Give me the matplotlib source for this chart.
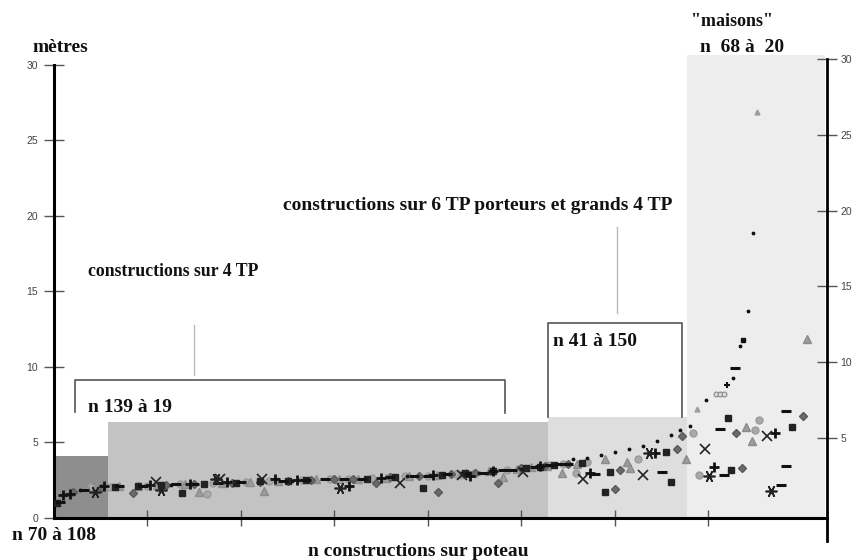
import matplotlib
matplotlib.use("Agg")
import matplotlib.pyplot as plt

# groups of constructions (x ranges in rank units, height of shaded block in metres)
group_edges = [0.2, 5.8, 52.8, 67.7, 82.5]
group_tops = [4.1, 6.36, 6.69, 30.7]
group_colors = ['#8e8e8e', '#c3c3c3', '#dedede', '#ededed']

# series: (x rank, height in metres)
x_cross = [10.9, 17.8, 22.2, 37.0, 43.7, 50.2, 56.6, 63.0, 69.6, 76.3]
y_cross = [2.4, 2.6, 2.55, 2.3, 2.85, 3.05, 2.6, 2.85, 4.6, 5.4]

x_star = [4.4, 11.4, 17.3, 30.6, 63.7, 70.1, 76.7]
y_star = [1.7, 1.85, 2.6, 2.0, 4.3, 2.8, 1.8]

x_plus = [1.0, 1.7, 5.3, 10.3, 14.5, 18.5, 23.6, 26.0, 31.6, 35.0, 40.5, 44.5, 47.0,
          52.0, 57.3, 64.3, 70.6, 77.1]
y_plus = [1.5, 1.6, 2.1, 2.2, 2.25, 2.4, 2.55, 2.5, 2.1, 2.65, 2.85, 2.8, 3.1,
          3.45, 3.0, 4.3, 3.4, 5.6]

x_dash = [0.6, 3.2, 7.0, 9.5, 13.0, 15.0, 17.5, 20.0, 24.5, 27.0, 29.0, 31.0, 33.0,
          36.0, 38.5, 40.0, 42.0, 44.0, 46.0, 48.0, 49.0, 51.5, 53.0, 54.0, 55.0,
          57.9, 65.1, 71.3, 71.7, 72.9, 77.8, 78.3, 78.3]
y_dash = [1.05, 1.85, 2.1, 2.15, 2.25, 2.25, 2.3, 2.4, 2.45, 2.5, 2.55, 2.55, 2.6,
          2.7, 2.75, 2.8, 2.9, 2.95, 3.0, 3.15, 3.2, 3.4, 3.5, 3.6, 3.6,
          2.9, 3.05, 5.9, 2.85, 9.9, 2.2, 3.45, 7.1]

x_square = [0.3, 6.5, 9.0, 11.5, 13.7, 16.0, 19.5, 22.0, 25.0, 27.0, 33.5, 36.5,
            39.5, 41.5, 44.0, 47.0, 50.5, 52.0, 53.5, 56.5, 59.0, 59.5, 65.5,
            66.0, 72.1, 72.4, 79.0]
y_square = [1.0, 2.05, 2.15, 2.2, 1.65, 2.25, 2.35, 2.45, 2.45, 2.5, 2.6, 2.7,
            2.0, 2.85, 2.95, 3.1, 3.3, 3.4, 3.5, 3.65, 1.7, 3.05, 4.4,
            2.4, 6.6, 3.2, 6.0]

x_diamond = [2.0, 5.0, 8.45, 12.0, 15.0, 19.0, 22.0, 25.0, 27.5, 30.0, 32.0, 34.5,
             36.0, 39.0, 41.1, 42.5, 45.0, 47.5, 50.0, 52.5, 55.0, 60.0, 60.6,
             66.6, 67.2, 73.0, 73.6, 80.1]
y_diamond = [1.75, 2.0, 1.65, 2.2, 2.25, 2.35, 2.4, 2.45, 2.5, 2.55, 2.6, 2.3,
             2.7, 2.75, 1.7, 2.9, 2.95, 2.3, 3.3, 3.45, 3.55, 1.9, 3.2,
             4.6, 5.4, 5.6, 3.3, 6.75]

x_triangle = [3.5, 7.0, 9.0, 11.0, 14.0, 15.5, 18.0, 21.0, 22.5, 24.0, 28.0, 30.5,
              32.5, 35.5, 38.0, 41.0, 43.5, 46.5, 48.0, 49.5, 51.0, 52.7, 54.4,
              56.0, 59.0, 61.3, 61.6, 67.6, 74.0, 74.7, 80.6]
y_triangle = [1.9, 2.1, 2.15, 2.2, 2.25, 1.7, 2.3, 2.4, 1.8, 2.45, 2.55, 2.55,
              2.6, 2.65, 2.75, 2.85, 2.9, 3.1, 2.7, 3.25, 3.35, 3.45, 3.0,
              3.6, 3.9, 3.7, 3.3, 3.9, 6.0, 5.1, 11.85]

x_circle = [3.85, 6.0, 10.0, 13.5, 16.4, 17.0, 20.5, 23.0, 26.5, 29.5, 31.5, 34.0,
            37.5, 40.0, 43.0, 45.0, 48.5, 50.0, 53.0, 54.5, 55.9, 57.0, 62.5,
            68.4, 69.0, 75.0, 75.4]
y_circle = [2.05, 2.05, 2.15, 2.25, 1.6, 2.3, 2.4, 2.45, 2.5, 2.55, 2.6, 2.65,
            2.75, 2.8, 2.9, 3.0, 3.2, 3.3, 3.5, 3.55, 3.0, 3.7, 3.9,
            5.6, 2.85, 5.8, 6.5]

x_dot = [2.8, 12.5, 25.5, 37.8, 45.5, 50.0, 55.5, 57.0, 58.5, 60.0, 61.5, 63.0,
         64.5, 66.0, 67.0, 68.0, 69.8, 72.6, 73.4, 74.3, 74.8]
y_dot = [1.85, 2.2, 2.45, 2.75, 3.0, 3.25, 3.9, 4.0, 4.2, 4.4, 4.6, 4.8,
         5.1, 5.5, 5.8, 6.1, 7.8, 9.3, 11.4, 13.7, 18.9]

# small marks of the steep "maisons" branch
x_small_tri = [68.8, 75.2]
y_small_tri = [7.2, 26.9]
x_small_circ = [70.8, 71.2, 71.7]
y_small_circ = [8.2, 8.2, 8.2]
x_small_sq = [73.7]
y_small_sq = [11.8]
x_small_plus = [72.0]
y_small_plus = [8.8]

fig = plt.figure(figsize=(8.57, 5.6), dpi=100)
ax = fig.add_axes([54 / 857, 42 / 560, (827 - 54) / 857, (518 - 55) / 560])

ax.set_xlim(0, 82.7)
ax.set_ylim(0, 30.66)

# shaded blocks of each group
for i in range(len(group_tops)):
    ax.fill_between([group_edges[i], group_edges[i + 1]], 0, group_tops[i],
                    color=group_colors[i], lw=0, zorder=0)

# scatter series
ax.plot(x_circle, y_circle, 'o', ms=5, color='#a9a9a9', mec='#9a9a9a', ls='none', zorder=3)
ax.plot(x_triangle, y_triangle, '^', ms=5.5, color='#9c9c9c', mec='#8c8c8c', ls='none', zorder=3)
ax.plot(x_diamond, y_diamond, 'D', ms=4.5, color='#6a6a6a', mec='#5a5a5a', ls='none', zorder=4)
ax.plot(x_square, y_square, 's', ms=4, color='#222222', ls='none', zorder=4)
ax.plot(x_dash, y_dash, '_', ms=6.5, mew=2.2, color='#111111', ls='none', zorder=5)
ax.plot(x_dot, y_dot, '.', ms=3.5, color='#111111', ls='none', zorder=5)
ax.plot(x_plus, y_plus, '+', ms=7, mew=2, color='#111111', ls='none', zorder=5)
ax.plot(x_cross, y_cross, 'x', ms=7.5, mew=1.2, color='#222222', ls='none', zorder=5)
ax.plot(x_star, y_star, marker=(6, 2, 90), ms=8.5, mew=1.2, color='#222222', ls='none', zorder=5)

ax.plot(x_small_tri, y_small_tri, '^', ms=3.5, color='#9c9c9c', ls='none', zorder=5)
ax.plot(x_small_circ, y_small_circ, 'o', ms=3.5, mfc='#dddddd', mec='#888888', mew=0.8,
        ls='none', zorder=5)
ax.plot(x_small_sq, y_small_sq, 's', ms=3, color='#111111', ls='none', zorder=5)
ax.plot(x_small_plus, y_small_plus, '+', ms=5, mew=1.5, color='#111111', ls='none', zorder=5)

# brackets and connectors
ax.plot([2.25, 2.25, 48.3, 48.3], [7.0, 9.14, 9.14, 6.95], color='#555555', lw=1.2, zorder=2)
ax.plot([15.0, 15.0], [9.47, 12.8], color='#bbbbbb', lw=1.0)
ax.plot([52.9, 52.9, 67.2, 67.2], [6.69, 12.9, 12.9, 6.69], color='#555555', lw=1.2, zorder=2)
ax.plot([60.2, 60.2], [13.6, 19.3], color='#bbbbbb', lw=1.0)

# axes styling
for s in ['top', 'right']:
    ax.spines[s].set_visible(False)
ax.spines['left'].set_linewidth(2.2)
ax.spines['left'].set_bounds(0, 30)
ax.spines['bottom'].set_linewidth(2.2)
ax.set_yticks([0, 5, 10, 15, 20, 25, 30])
ax.tick_params(axis='y', direction='inout', length=15, width=1, color='#555555',
               labelsize=7.5, labelcolor='#444444', pad=4)
ax.set_xticks([10, 20, 30, 40, 50, 60, 70])
ax.set_xticklabels([])
ax.tick_params(axis='x', direction='inout', length=12, width=1, color='#555555')
for lab in ax.get_yticklabels():
    lab.set_fontfamily('Liberation Sans')

ax2 = ax.twinx()
ax2.set_ylim(-0.264, 30.26)
for s in ['top', 'left', 'bottom']:
    ax2.spines[s].set_visible(False)
ax2.spines['right'].set_linewidth(2.0)
ax2.spines['right'].set_bounds(-1.8, 30)
ax2.set_yticks([5, 10, 15, 20, 25, 30])
ax2.tick_params(axis='y', direction='inout', length=15, width=1, color='#555555',
                labelsize=7.5, labelcolor='#444444', pad=2)
for lab in ax2.get_yticklabels():
    lab.set_fontfamily('Liberation Sans')

# texts
serif = dict(family='Liberation Serif', weight='bold', color='#111111')


def ftext(px, py, s, ha='left', size=14):
    fig.text(px / 857, 1 - py / 560, s, ha=ha, va='center', fontsize=size, **serif)


ftext(60, 48, 'mètres', ha='center')
ftext(732, 22, '"maisons"', ha='center', size=13)
ftext(742, 48, 'n  68 à  20', ha='center')
ftext(478, 205, 'constructions sur 6 TP porteurs et grands 4 TP', ha='center')
ftext(88, 272, 'constructions sur 4 TP', size=12.8)
ftext(88, 407, 'n 139 à 19')
ftext(553, 342, 'n 41 à 150')
ftext(12, 535, 'n 70 à 108')
ftext(418, 552, 'n constructions sur poteau', ha='center')

fig.savefig('out.png', dpi=100)
